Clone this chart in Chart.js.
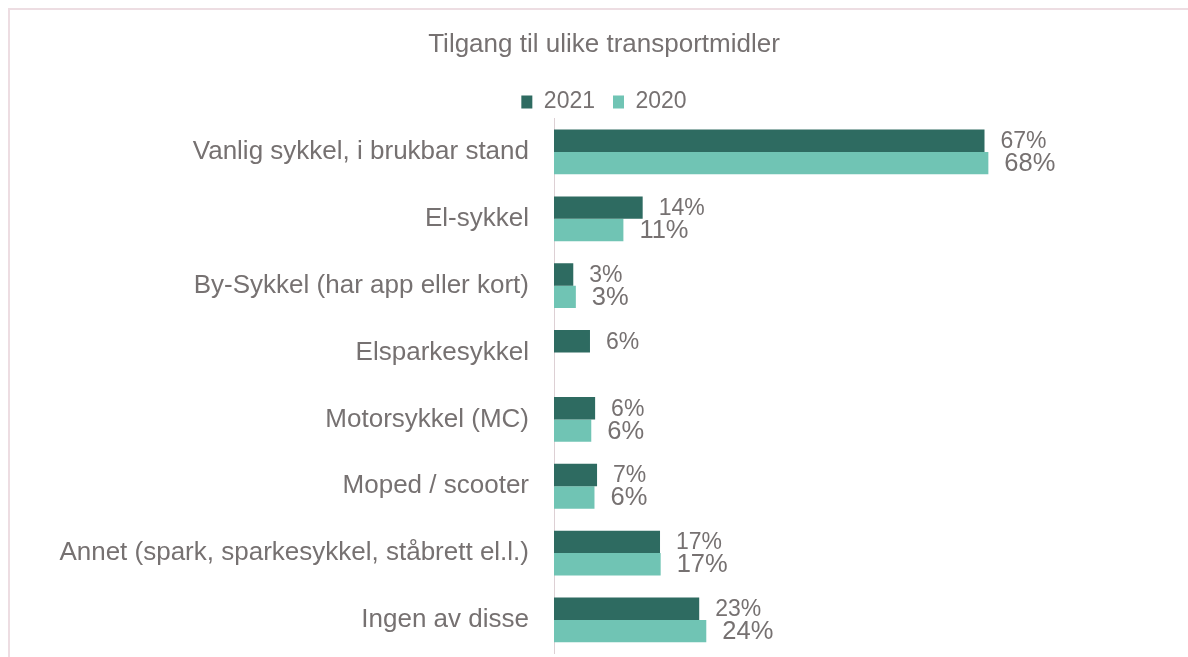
<!DOCTYPE html>
<html>
<head>
<meta charset="utf-8">
<script src="https://cdn.jsdelivr.net/npm/chart.js@4"></script>
<style>
  html, body { margin: 0; padding: 0; background: #ffffff; overflow: hidden; }
  #wrap { position: relative; width: 1188px; height: 657px; overflow: hidden; }
  #frame { position: absolute; left: 8px; top: 8px; width: 1250px; height: 700px;
           border-top: 2px solid #eddde2; border-left: 2px solid #eddde2; pointer-events: none; }
  canvas { position: absolute; left: 0; top: 0; }
</style>
</head>
<body>
<div id="wrap">
  <canvas id="c" width="1188" height="657"></canvas>
  <div id="frame"></div>
</div>
<script>
const titleText = "Tilgang til ulike transportmidler";
const categories = [
  "Vanlig sykkel, i brukbar stand",
  "El-sykkel",
  "By-Sykkel (har app eller kort)",
  "Elsparkesykkel",
  "Motorsykkel (MC)",
  "Moped / scooter",
  "Annet (spark, sparkesykkel, ståbrett el.l.)",
  "Ingen av disse"
];
const seriesNames = ["2021", "2020"];
const values2021 = [67.0, 13.8, 3.0, 5.6, 6.4, 6.7, 16.5, 22.6];
const values2020 = [67.6, 10.8, 3.4, null, 5.8, 6.3, 16.6, 23.7];
const colors = ["#2e6b61", "#70c4b4"];
const textColor = "#767171";
const fontFamily = "'Liberation Sans', Arial, sans-serif";

const valueLabels = {
  id: "valueLabels",
  afterDatasetsDraw(chart) {
    const ctx = chart.ctx;
    ctx.save();
    ctx.fillStyle = textColor;
    ctx.textAlign = "left";
    ctx.textBaseline = "middle";
    chart.data.datasets.forEach((ds, di) => {
      const meta = chart.getDatasetMeta(di);
      ctx.font = (di === 0 ? 23 : 25.5) + "px " + fontFamily;
      meta.data.forEach((el, i) => {
        const v = ds.data[i];
        if (v === null || v === undefined) return;
        ctx.fillText(Math.round(v) + "%", el.x + 16, el.y + 1);
      });
    });
    ctx.restore();
  }
};

new Chart(document.getElementById("c"), {
  type: "bar",
  data: {
    labels: categories,
    datasets: [
      { label: seriesNames[0], data: values2021, backgroundColor: colors[0] },
      { label: seriesNames[1], data: values2020, backgroundColor: colors[1] }
    ]
  },
  options: {
    indexAxis: "y",
    responsive: false,
    animation: false,
    devicePixelRatio: 1,
    datasets: { bar: { categoryPercentage: 0.67, barPercentage: 1.0 } },
    layout: { autoPadding: false, padding: { left: 50, right: 30, top: 0, bottom: 3.6 } },
    scales: {
      x: { display: false, min: 0, max: 94 },
      y: {
        afterFit(s) { s.width = 504; s.paddingTop = 0; s.paddingBottom = 0; },
        grid: { display: false, drawTicks: false },
        border: { display: true, color: "#ddd0d4", width: 1 },
        ticks: { color: textColor, padding: 25, font: { family: fontFamily, size: 26 } }
      }
    },
    plugins: {
      title: {
        display: true, text: titleText, color: textColor,
        font: { family: fontFamily, size: 26, weight: "normal" },
        padding: { top: 29.4, bottom: 11.9 }
      },
      legend: {
        display: true, position: "top", maxHeight: 46,
        labels: {
          color: textColor, boxWidth: 11, boxHeight: 13, padding: 18,
          font: { family: fontFamily, size: 23 }
        }
      },
      tooltip: { enabled: false }
    }
  },
  plugins: [valueLabels]
});
</script>
</body>
</html>
